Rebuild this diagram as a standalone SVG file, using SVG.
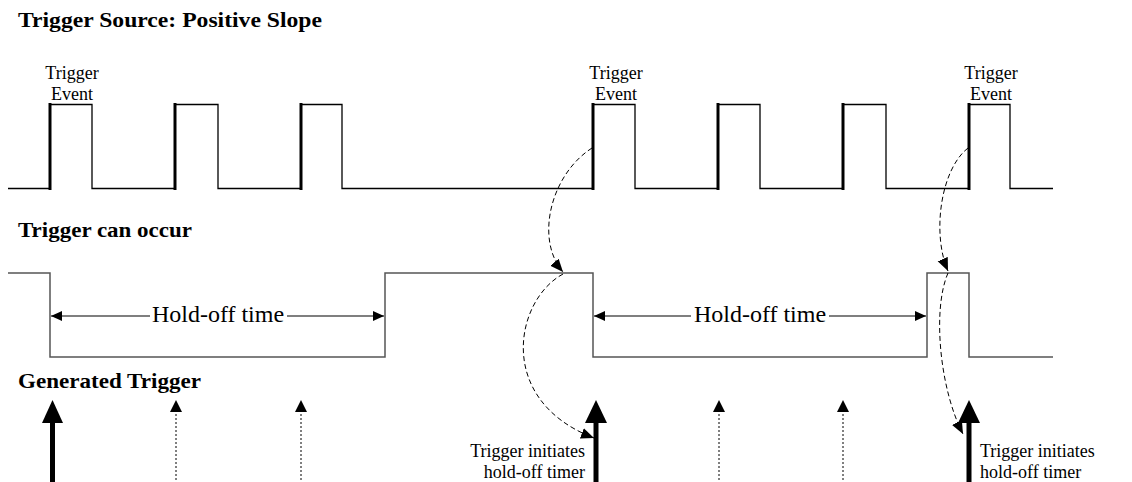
<svg xmlns="http://www.w3.org/2000/svg" width="1132" height="482" viewBox="0 0 1132 482">
<style>
.title{font-family:"Liberation Serif",serif;font-weight:bold;font-size:22px;fill:#000}
.lbl{font-family:"Liberation Serif",serif;font-size:18px;fill:#000}
.hold{font-family:"Liberation Serif",serif;font-size:24px;fill:#000}
.wave{fill:none;stroke:#000;stroke-width:1.3}
.wave2{fill:none;stroke:#555;stroke-width:1.5}
.edge{stroke:#000;stroke-width:3}
.dim{stroke:#000;stroke-width:1.2;fill:none}
.dash{stroke:#000;stroke-width:1;fill:none;stroke-dasharray:5,3}
.dot{stroke:#000;stroke-width:1;stroke-dasharray:2,2}
.thick{stroke:#000;stroke-width:5}
</style>
<defs>
<marker id="ah" markerUnits="userSpaceOnUse" markerWidth="12" markerHeight="10" refX="11" refY="5" orient="auto">
<path d="M0,0 L11,5 L0,10 Z" fill="#000"/>
</marker>
<marker id="ahs" markerUnits="userSpaceOnUse" markerWidth="14" markerHeight="12" refX="13" refY="6" orient="auto">
<path d="M0,0.5 L13,6 L0,11.5 Z" fill="#000"/>
</marker>
</defs>

<g id="titles">
<text class="title" x="18" y="27" textLength="304" lengthAdjust="spacingAndGlyphs">Trigger Source: Positive Slope</text>
<text class="title" x="18" y="237" textLength="174" lengthAdjust="spacingAndGlyphs">Trigger can occur</text>
<text class="title" x="18" y="388" textLength="183" lengthAdjust="spacingAndGlyphs">Generated Trigger</text>
</g>

<g id="source-waveform">
<path class="wave" d="M8,188.5 H50 V104.5 H92 V188.5 H175 V104.5 H218 V188.5 H301 V104.5 H342 V188.5 H593 V104.5 H635 V188.5 H718 V104.5 H760 V188.5 H843 V104.5 H886 V188.5 H969 V104.5 H1010 V188.5 H1053"/>
<line class="edge" x1="50" y1="103" x2="50" y2="190"/>
<line class="edge" x1="175" y1="103" x2="175" y2="190"/>
<line class="edge" x1="301" y1="103" x2="301" y2="190"/>
<line class="edge" x1="593" y1="103" x2="593" y2="190"/>
<line class="edge" x1="718" y1="103" x2="718" y2="190"/>
<line class="edge" x1="843" y1="103" x2="843" y2="190"/>
<line class="edge" x1="969" y1="103" x2="969" y2="190"/>
</g>

<g id="event-labels">
<text class="lbl" x="72" y="79" text-anchor="middle">Trigger</text>
<text class="lbl" x="72" y="100" text-anchor="middle">Event</text>
<text class="lbl" x="616" y="79" text-anchor="middle">Trigger</text>
<text class="lbl" x="616" y="100" text-anchor="middle">Event</text>
<text class="lbl" x="991" y="79" text-anchor="middle">Trigger</text>
<text class="lbl" x="991" y="100" text-anchor="middle">Event</text>
</g>

<g id="can-occur-waveform">
<path class="wave2" d="M8,273 H50 V357 H385 V273 H593 V357 H927 V273 H969 V357 H1053"/>
</g>

<g id="holdoff-1">
<line class="dim" x1="150" y1="316" x2="51" y2="316" marker-end="url(#ah)"/>
<line class="dim" x1="287" y1="316" x2="384" y2="316" marker-end="url(#ah)"/>
<text class="hold" x="218" y="322" text-anchor="middle">Hold-off time</text>
</g>
<g id="holdoff-2">
<line class="dim" x1="691" y1="316" x2="594" y2="316" marker-end="url(#ah)"/>
<line class="dim" x1="829" y1="316" x2="926" y2="316" marker-end="url(#ah)"/>
<text class="hold" x="760" y="322" text-anchor="middle">Hold-off time</text>
</g>

<g id="generated-triggers">
<line class="thick" x1="52.5" y1="420" x2="52.5" y2="482"/>
<path d="M52.5,400 L63,423 L42,423 Z" fill="#000"/>
<line class="thick" x1="596" y1="420" x2="596" y2="482"/>
<path d="M596,400 L607,423 L585,423 Z" fill="#000"/>
<line class="thick" x1="969" y1="420" x2="969" y2="482"/>
<path d="M969,400 L980,423 L958,423 Z" fill="#000"/>
<line class="dot" x1="176" y1="410" x2="176" y2="482"/>
<path d="M176,400 L182,412 L170,412 Z" fill="#000"/>
<line class="dot" x1="301" y1="410" x2="301" y2="482"/>
<path d="M301,400 L307,412 L295,412 Z" fill="#000"/>
<line class="dot" x1="719" y1="410" x2="719" y2="482"/>
<path d="M719,400 L725,412 L713,412 Z" fill="#000"/>
<line class="dot" x1="843" y1="410" x2="843" y2="482"/>
<path d="M843,400 L849,412 L837,412 Z" fill="#000"/>
</g>

<g id="initiate-labels">
<text class="lbl" x="585" y="457" text-anchor="end" font-size="18.5">Trigger initiates</text>
<text class="lbl" x="585" y="478" text-anchor="end" font-size="18.5">hold-off timer</text>
<text class="lbl" x="980" y="457" font-size="18.5">Trigger initiates</text>
<text class="lbl" x="980" y="478" font-size="18.5">hold-off timer</text>
</g>

<g id="connectors">
<path class="dash" d="M592,148 C550,175 535,240 563,272" marker-end="url(#ahs)"/>
<path class="dash" d="M563,274 C515,300 495,400 594,438" marker-end="url(#ahs)"/>
<path class="dash" d="M968,148 C940,170 932,235 948,271" marker-end="url(#ahs)"/>
<path class="dash" d="M948,273 C932,310 940,390 963,434" marker-end="url(#ahs)"/>
</g>
</svg>
